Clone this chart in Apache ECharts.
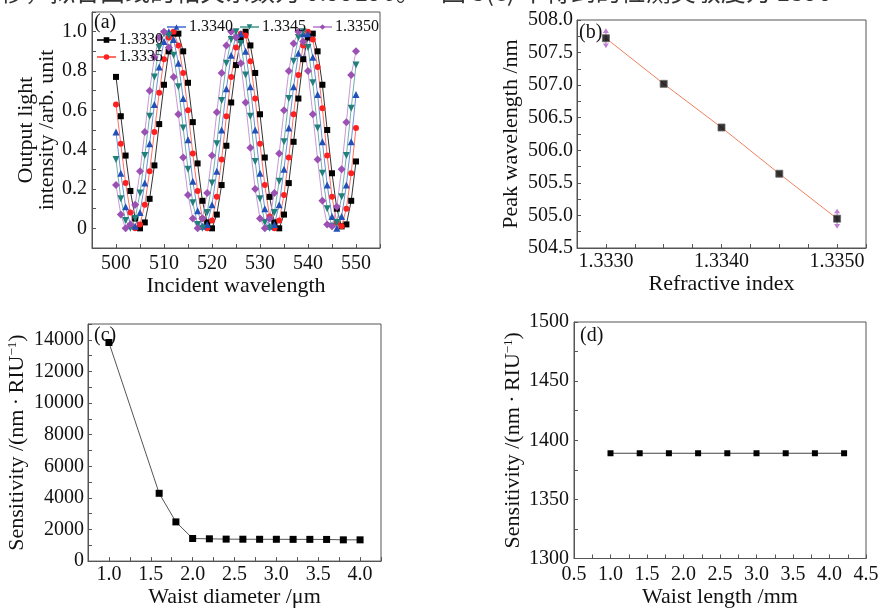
<!DOCTYPE html>
<html>
<head>
<meta charset="utf-8">
<title>Sensor response</title>
<script src="https://cdn.jsdelivr.net/npm/echarts@6/dist/echarts.min.js"></script>
<style>
  html, body { margin: 0; padding: 0; background: #fff; }
  #chart { width: 882px; height: 609px; }
</style>
</head>
<body>
<div id="chart"></div>
<script>
// (a) transmission spectra, one array per refractive index
var wavelength = [500, 501, 502, 503, 504, 505, 506, 507, 508, 509,
  510, 511, 512, 513, 514, 515, 516, 517, 518, 519,
  520, 521, 522, 523, 524, 525, 526, 527, 528, 529,
  530, 531, 532, 533, 534, 535, 536, 537, 538, 539,
  540, 541, 542, 543, 544, 545, 546, 547, 548, 549, 550]
var ri3330 = [0.77, 0.57, 0.37, 0.19, 0.05, 0.00, 0.03, 0.15, 0.32, 0.53,
  0.73, 0.90, 0.99, 0.99, 0.90, 0.74, 0.54, 0.33, 0.14, 0.03,
  0.00, 0.07, 0.22, 0.42, 0.64, 0.83, 0.96, 1.00, 0.93, 0.79,
  0.58, 0.36, 0.16, 0.03, 0.00, 0.07, 0.23, 0.44, 0.66, 0.86,
  0.97, 0.99, 0.90, 0.73, 0.50, 0.28, 0.10, 0.01, 0.02, 0.14, 0.34]
var ri3335 = [0.63, 0.43, 0.23, 0.08, 0.00, 0.02, 0.12, 0.29, 0.49, 0.69,
  0.86, 0.97, 1.00, 0.93, 0.79, 0.60, 0.38, 0.19, 0.05, 0.00,
  0.04, 0.16, 0.35, 0.57, 0.77, 0.92, 0.99, 0.98, 0.85, 0.66,
  0.43, 0.22, 0.06, 0.00, 0.04, 0.17, 0.36, 0.58, 0.78, 0.93,
  1.00, 0.96, 0.82, 0.61, 0.37, 0.16, 0.03, 0.01, 0.10, 0.28, 0.51]
var ri3340 = [0.49, 0.28, 0.11, 0.02, 0.01, 0.08, 0.23, 0.43, 0.63, 0.82,
  0.95, 1.00, 0.96, 0.84, 0.66, 0.45, 0.24, 0.09, 0.01, 0.02,
  0.12, 0.29, 0.50, 0.71, 0.88, 0.98, 0.99, 0.90, 0.72, 0.50,
  0.28, 0.10, 0.01, 0.02, 0.12, 0.30, 0.51, 0.72, 0.89, 0.99,
  0.99, 0.87, 0.68, 0.44, 0.22, 0.06, 0.00, 0.06, 0.22, 0.44, 0.68]
var ri3345 = [0.35, 0.15, 0.04, 0.00, 0.05, 0.18, 0.37, 0.57, 0.77, 0.92,
  0.99, 0.98, 0.88, 0.72, 0.51, 0.30, 0.13, 0.02, 0.00, 0.08,
  0.23, 0.43, 0.65, 0.84, 0.96, 1.00, 0.94, 0.78, 0.57, 0.34,
  0.15, 0.03, 0.00, 0.08, 0.24, 0.44, 0.66, 0.85, 0.97, 1.00,
  0.92, 0.74, 0.51, 0.28, 0.10, 0.01, 0.03, 0.16, 0.37, 0.61, 0.83]
var ri3350 = [0.22, 0.07, 0.00, 0.02, 0.12, 0.29, 0.49, 0.70, 0.87, 0.97,
  1.00, 0.92, 0.77, 0.58, 0.36, 0.17, 0.05, 0.00, 0.05, 0.18,
  0.37, 0.59, 0.79, 0.93, 1.00, 0.97, 0.84, 0.64, 0.41, 0.20,
  0.05, 0.00, 0.05, 0.18, 0.38, 0.60, 0.80, 0.94, 1.00, 0.95,
  0.80, 0.58, 0.35, 0.14, 0.02, 0.01, 0.11, 0.30, 0.54, 0.78, 0.90]

// (b) peak wavelength vs refractive index
var refractiveIndex = [1.3330, 1.3335, 1.3340, 1.3345, 1.3350]
var peakWavelength = [507.72, 507.02, 506.35, 505.64, 504.95]

// (c) sensitivity vs waist diameter
var waistDiameter = [1.0, 1.6, 1.8, 2.0, 2.2, 2.4, 2.6, 2.8, 3.0, 3.2, 3.4, 3.6, 3.8, 4.0]
var sensDiameter = [13830, 4290, 2480, 1430, 1410, 1390, 1385, 1380, 1380, 1375, 1375, 1370, 1345, 1345]

// (d) sensitivity vs waist length
var waistLength = [1.0, 1.4, 1.8, 2.2, 2.6, 3.0, 3.4, 3.8, 4.2]
var sensLength = [1389, 1389, 1389, 1389, 1389, 1389, 1389, 1389, 1389]

var serif = 'Liberation Serif'
var frame = '#555'

function pairs(xs, ys) {
  return xs.map(function (x, i) { return [x, ys[i]] })
}
// show a label only on multiples of step
function every(step, digits) {
  return function (v) {
    var k = v / step
    if (Math.abs(k - Math.round(k)) > 1e-6) return ''
    return digits === 0 && Math.abs(v) < 1e-9 ? '0' : v.toFixed(digits)
  }
}

function axis(grid, min, max, interval, fmt, name, gap, margin) {
  return {
    type: 'value',
    gridIndex: grid,
    min: min,
    max: max,
    interval: interval,
    name: name,
    nameLocation: 'middle',
    nameGap: gap,
    nameTextStyle: { fontFamily: serif, fontSize: 22, color: '#111', lineHeight: 21 },
    axisLine: { show: true, onZero: false, lineStyle: { color: frame, width: 1 } },
    axisTick: { show: true, inside: true, length: 4, lineStyle: { color: frame } },
    axisLabel: { formatter: fmt, fontFamily: serif, fontSize: 20, color: '#111', margin: margin, showMinLabel: true, showMaxLabel: true },
    splitLine: { show: false }
  }
}

var sensName = '{t|Sensitivity /(nm\u2009·\u2009RIU}{s|\u22121}{t|)}'
var sensRich = {
  t: { fontFamily: serif, fontSize: 22, color: '#111' },
  s: { fontFamily: serif, fontSize: 13, color: '#111', padding: [0, 0, 10, 0] }
}

var yC = axis(2, 0, 15000, 1000, every(2000, 0), sensName, 60, 4)
yC.nameTextStyle.rich = sensRich
var yD = axis(3, 1300, 1500, 25, every(50, 0), sensName, 50, 5)
yD.nameTextStyle.rich = sensRich

var spectra = [
  { name: '1.3330', data: ri3330, symbol: 'rect', size: 6, color: '#000', line: '#333' },
  { name: '1.3335', data: ri3335, symbol: 'circle', size: 6, color: '#ff2020', line: '#ff7060' },
  { name: '1.3340', data: ri3340, symbol: 'triangle', size: 7, color: '#2050b8', line: '#6f8fd8' },
  { name: '1.3345', data: ri3345, symbol: 'path://M0,0 L10,0 L5,9 Z', size: 7, color: '#20807a', line: '#70b0aa' },
  { name: '1.3350', data: ri3350, symbol: 'diamond', size: 8, color: '#9c50b4', line: '#c898d8' }
]

var series = spectra.map(function (s) {
  return {
    name: s.name,
    type: 'line',
    xAxisIndex: 0,
    yAxisIndex: 0,
    data: pairs(wavelength, s.data),
    symbol: s.symbol,
    symbolSize: s.size,
    showAllSymbol: true,
    itemStyle: { color: s.color },
    lineStyle: { color: s.line, width: 1 },
    animation: false
  }
})

series.push({
  type: 'line', xAxisIndex: 1, yAxisIndex: 1,
  data: pairs(refractiveIndex, peakWavelength),
  symbol: 'none',
  lineStyle: { color: '#f08060', width: 1 },
  z: 2, animation: false
})
series.push({
  type: 'scatter', xAxisIndex: 1, yAxisIndex: 1,
  data: [[refractiveIndex[0], peakWavelength[0]], [refractiveIndex[4], peakWavelength[4]]],
  symbol: 'path://M5,0 L10,7 L6,7 L6,23 L10,23 L5,30 L0,23 L4,23 L4,7 L0,7 Z',
  symbolSize: [6, 20],
  itemStyle: { color: '#b060c8' },
  z: 3, animation: false
})
series.push({
  type: 'scatter', xAxisIndex: 1, yAxisIndex: 1,
  data: pairs(refractiveIndex, peakWavelength),
  symbol: 'rect', symbolSize: 7,
  itemStyle: { color: '#000', borderColor: '#666', borderWidth: 1 },
  z: 4, animation: false
})
series.push({
  type: 'line', xAxisIndex: 2, yAxisIndex: 2,
  data: pairs(waistDiameter, sensDiameter),
  symbol: 'rect', symbolSize: 7,
  itemStyle: { color: '#000' },
  lineStyle: { color: '#555', width: 1 },
  animation: false
})
series.push({
  type: 'line', xAxisIndex: 3, yAxisIndex: 3,
  data: pairs(waistLength, sensLength),
  symbol: 'rect', symbolSize: 6,
  itemStyle: { color: '#000' },
  lineStyle: { color: '#444', width: 1 },
  animation: false
})

function panelLabel(text, x, y) {
  return { type: 'text', x: x, y: y, style: { text: text, font: '20px "Liberation Serif"', fill: '#111' } }
}

var option = {
  backgroundColor: '#fff',
  animation: false,
  grid: [
    { left: 92, top: 12, width: 288, height: 236, show: true, borderColor: frame, borderWidth: 1 },
    { left: 577, top: 20, width: 289, height: 228, show: true, borderColor: frame, borderWidth: 1 },
    { left: 88, top: 324, width: 293, height: 239, show: true, borderColor: frame, borderWidth: 1 },
    { left: 574, top: 322, width: 292, height: 238, show: true, borderColor: frame, borderWidth: 1 }
  ],
  xAxis: [
    axis(0, 495, 555, 5, every(10, 0), 'Incident wavelength', 24, 6),
    axis(1, 1.33275, 1.33525, 0.00025, every(0.001, 4), 'Refractive index', 24, 4),
    axis(2, 0.75, 4.25, 0.25, every(0.5, 1), 'Waist diameter /μm', 21, 4),
    axis(3, 0.5, 4.5, 0.25, every(0.5, 1), 'Waist length /mm', 28, 6)
  ],
  yAxis: [
    axis(0, -0.1, 1.1, 0.1, function (v) {
      var k = v / 0.2
      if (Math.abs(k - Math.round(k)) > 1e-6 || v < -1e-9) return ''
      return Math.abs(v) < 1e-9 ? '0' : v.toFixed(1)
    }, 'Output light\nintensity /arb. unit', 34, 5),
    axis(1, 504.5, 508.0, 0.25, every(0.5, 1), 'Peak wavelength /nm', 55, 4),
    yC,
    yD
  ],
  legend: [
    {
      data: ['1.3340', '1.3345', '1.3350'],
      left: 161, top: 14, itemGap: 6, itemWidth: 19, itemHeight: 7,
      textStyle: { fontFamily: serif, fontSize: 16, color: '#111', padding: [0, 0, 0, -2] }
    },
    {
      data: ['1.3330', '1.3335'],
      orient: 'vertical', left: 91, top: 27, itemGap: 1, itemWidth: 19, itemHeight: 7,
      textStyle: { fontFamily: serif, fontSize: 16, color: '#111', padding: [0, 0, 0, -2] }
    }
  ],
  graphic: [
    { type: 'text', x: 0, y: -21, style: { text: '移，拟合曲线的相关系数为 0.99196。', font: '25px "Noto Sans CJK SC"', fill: '#333' } },
    { type: 'text', x: 441, y: -21, style: { text: '图 3(c) 中得到的检测灵敏度为 1390', font: '25px "Noto Sans CJK SC"', fill: '#333' } },
    panelLabel('(a)', 94, 13),
    panelLabel('(b)', 579, 23),
    panelLabel('(c)', 94, 326),
    panelLabel('(d)', 580, 326)
  ],
  series: series
}

var chart = echarts.init(document.getElementById('chart'))
chart.setOption(option)
</script>
</body>
</html>
